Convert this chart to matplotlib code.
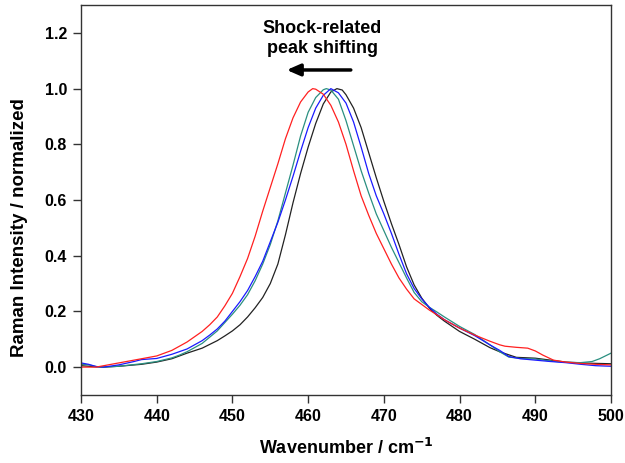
import matplotlib
matplotlib.use("Agg")
import matplotlib.pyplot as plt

plt.rcParams['font.family'] = ['Liberation Sans', 'DejaVu Sans']

# Wavenumber grids and normalized intensities
red_x = [430, 432, 434, 436, 438, 440, 442, 444, 446, 447, 448, 449, 450, 451, 452, 453, 454, 455, 456, 457,
         458, 459, 460, 460.6, 461, 462, 463, 464, 465, 466, 467, 468, 469, 470, 471, 472, 473, 474, 475,
         476, 477, 478, 479, 480, 482, 484, 485.3, 486, 487.5, 489, 490, 491, 492.4, 494, 496, 498, 500]
red_y = [0.0, 0.0, 0.01, 0.02, 0.03, 0.04, 0.06, 0.09, 0.128, 0.152, 0.18, 0.22, 0.265, 0.325, 0.39, 0.47, 0.56,
         0.645, 0.73, 0.82, 0.895, 0.952, 0.988, 1.0, 0.998, 0.98, 0.94, 0.88, 0.80, 0.705, 0.615, 0.545, 0.48,
         0.425, 0.37, 0.32, 0.28, 0.245, 0.225, 0.205, 0.188, 0.17, 0.155, 0.14, 0.115, 0.093, 0.08, 0.075,
         0.071, 0.068, 0.058, 0.043, 0.025, 0.018, 0.013, 0.01, 0.008]

teal_x = [430, 431, 432, 433, 435, 438, 440, 442, 443, 444, 446, 448, 449, 450, 451, 452, 453, 454, 455,
          456, 457, 458, 459, 460, 461, 462, 462.4, 463, 464, 465, 466, 467, 468, 469, 470, 471, 472, 473,
          474, 475, 476, 477, 478, 480, 482, 484, 485.3, 486.5, 488, 490, 492, 494, 496, 497.5, 498.5, 500]
teal_y = [0.01, 0.008, 0.002, 0.0, 0.003, 0.012, 0.02, 0.033, 0.043, 0.055, 0.085, 0.13, 0.16, 0.19,
          0.222, 0.26, 0.31, 0.37, 0.44, 0.525, 0.625, 0.725, 0.83, 0.915, 0.968, 0.996, 1.0, 0.995, 0.962,
          0.885, 0.795, 0.705, 0.625, 0.55, 0.49, 0.43, 0.375, 0.32, 0.268, 0.235, 0.215, 0.198, 0.18, 0.146,
          0.117, 0.08, 0.055, 0.036, 0.031, 0.029, 0.022, 0.017, 0.016, 0.02, 0.03, 0.05]

blue_x = [430, 431, 432, 433, 435, 437, 438, 440, 442, 444, 445, 446, 447, 448, 449, 450, 451, 452, 453,
          454, 455, 456, 457, 458, 459, 460, 461, 462, 463, 464, 465, 466, 467, 468, 469, 470, 471, 472,
          473, 474, 475, 476, 477, 478, 480, 482, 484, 485.3, 486.5, 488, 490, 492, 494, 496, 498, 500]
blue_y = [0.015, 0.01, 0.002, 0.0, 0.008, 0.02, 0.027, 0.031, 0.046, 0.065, 0.08, 0.095, 0.115, 0.137,
          0.165, 0.2, 0.235, 0.275, 0.325, 0.38, 0.45, 0.52, 0.6, 0.685, 0.775, 0.86, 0.93, 0.976, 1.0, 0.985,
          0.948, 0.88, 0.79, 0.695, 0.615, 0.55, 0.48, 0.405, 0.335, 0.282, 0.245, 0.215, 0.19, 0.17, 0.14,
          0.113, 0.08, 0.06, 0.038, 0.03, 0.025, 0.02, 0.016, 0.01, 0.005, 0.003]

black_x = [430, 432, 433, 435, 438, 440, 442, 443, 444, 446, 448, 449, 450, 451, 452, 453, 454, 455, 456,
           457, 458, 459, 460, 461, 462, 463, 463.8, 464.5, 465, 466, 467, 468, 469, 470, 471, 472, 473,
           474, 475, 476, 477, 478, 480, 482, 484, 485.3, 487.5, 490, 492, 494, 497, 500]
black_y = [0.005, 0.001, 0.0, 0.003, 0.01, 0.018, 0.03, 0.04, 0.05, 0.068, 0.095, 0.112, 0.13, 0.152,
           0.18, 0.213, 0.25, 0.3, 0.37, 0.475, 0.59, 0.695, 0.79, 0.875, 0.945, 0.988, 1.0, 0.995, 0.978,
           0.93, 0.86, 0.77, 0.68, 0.595, 0.515, 0.44, 0.36, 0.295, 0.248, 0.212, 0.186, 0.165, 0.128, 0.1,
           0.07, 0.055, 0.035, 0.032, 0.025, 0.018, 0.014, 0.012]

x_ticks = [430, 440, 450, 460, 470, 480, 490, 500]
y_ticks = [0.0, 0.2, 0.4, 0.6, 0.8, 1.0, 1.2]

fig = plt.figure(figsize=(6.25, 4.63), dpi=100)
ax = fig.add_axes([0.1296, 0.147, 0.848, 0.842])

lw = 0.9
ax.plot(black_x, black_y, color='#222222', lw=lw)
ax.plot(teal_x, teal_y, color='#2a8f80', lw=lw)
ax.plot(blue_x, blue_y, color='#1a1aff', lw=lw)
ax.plot(red_x, red_y, color='#ff2020', lw=lw)

ax.set_xlim(430, 500)
ax.set_ylim(-0.1, 1.3)
ax.set_xticks(x_ticks)
ax.set_yticks(y_ticks)
ax.set_xticklabels([str(v) for v in x_ticks], fontweight='bold', fontsize=11.5)
ax.set_yticklabels([f"{v:.1f}" for v in y_ticks], fontweight='bold', fontsize=11.5)
ax.tick_params(direction='out', length=6, width=1.0, color='#333333', pad=4, top=False, right=False)
for s in ax.spines.values():
    s.set_linewidth(1.0)
    s.set_color('#333333')

ax.set_xlabel('Wavenumber / cm$^{\\mathbf{-1}}$', fontweight='bold', fontsize=13, labelpad=10)
ax.set_ylabel('Raman Intensity / normalized', fontweight='bold', fontsize=13.5, labelpad=10)
ax.yaxis.set_label_coords(-0.1, 0.43)

ax.text(461.9, 1.18, 'Shock-related\npeak shifting', ha='center', va='center',
        fontweight='bold', fontsize=13, linespacing=1.2)
ax.annotate('', xy=(456.8, 1.067), xytext=(466.0, 1.067),
            arrowprops=dict(arrowstyle='-|>,head_length=0.8,head_width=0.35', color='black', lw=2.5))

fig.savefig('out.png', dpi=100)
